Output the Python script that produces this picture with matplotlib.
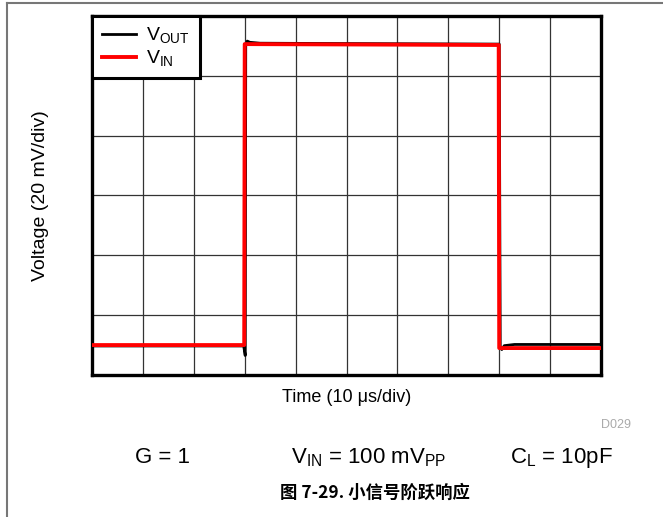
import numpy as np
import matplotlib.pyplot as plt
from matplotlib.lines import Line2D

plt.rcParams['font.family'] = ['Liberation Sans', 'DejaVu Sans']

# time in us, voltage in mV (20 mV/div, 10 us/div)
t_in = [0, 29.9, 30.0, 79.9, 80.0, 100]
v_in = [-50.0, -50.0, 50.6, 50.3, -51.0, -51.0]

t_out = [0, 29.8, 30.1, 30.2, 30.5, 31.0, 33.0, 45.0, 80.0, 80.2, 80.5, 81.0, 83.0, 100]
v_out = [-50.3, -50.3, -53.5, 50.0, 51.6, 51.2, 50.9, 50.8, 50.6, -50.5, -51.5, -50.2, -49.8, -49.8]

x_div = np.arange(0, 101, 10)
y_div = np.arange(-60, 61, 20)

fig = plt.figure(figsize=(6.63, 5.17), dpi=100)
ax = fig.add_axes([0.1388, 0.2747, 0.7677, 0.6944])

ax.plot(t_out, v_out, color='black', lw=2.0, label='V$_{\\mathregular{OUT}}$', zorder=3)
ax.plot(t_in, v_in, color='#ff0000', lw=2.8, label='V$_{\\mathregular{IN}}$', zorder=4)

ax.set_xlim(0, 100)
ax.set_ylim(-60, 60)
ax.set_xticks(x_div)
ax.set_yticks(y_div)
ax.tick_params(length=0, labelbottom=False, labelleft=False)
ax.grid(True, color='#333333', lw=0.9)
for s in ax.spines.values():
    s.set_linewidth(2.4)

ax.set_xlabel('Time (10 \u03bcs/div)', fontsize=13, labelpad=10)
ax.set_ylabel('Voltage (20 mV/div)', fontsize=14, labelpad=31)

leg = ax.legend(loc='upper left', bbox_to_anchor=(0, 1), borderaxespad=0,
                fancybox=False, framealpha=1, edgecolor='black', fontsize=14,
                handlelength=1.75, handletextpad=0.55, labelspacing=0.12,
                borderpad=0.5)
leg.get_frame().set_linewidth(2.2)
leg.set_zorder(10)

# page frame
fig.add_artist(Line2D([0.0106, 0.0106], [0, 0.995], color='#777777', lw=1.5))
fig.add_artist(Line2D([0.0106, 1.0], [0.995, 0.995], color='#777777', lw=1.5))

fig.text(0.952, 0.178, 'D029', color='#aaaaaa', fontsize=9, ha='right', va='center')
fig.text(0.245, 0.115, 'G = 1', fontsize=16, ha='center', va='center')
fig.text(0.556, 0.115, 'V$_{\\mathregular{IN}}$ = 100 mV$_{\\mathregular{PP}}$', fontsize=16, ha='center', va='center')
fig.text(0.847, 0.115, 'C$_{\\mathregular{L}}$ = 10pF', fontsize=16, ha='center', va='center')
fig.text(0.566, 0.046, '图 7-29. 小信号阶跃响应', fontsize=12.5, fontweight='bold',
         family=['Noto Sans CJK SC', 'DejaVu Sans'], ha='center', va='center')

fig.savefig('out.png', dpi=100)
